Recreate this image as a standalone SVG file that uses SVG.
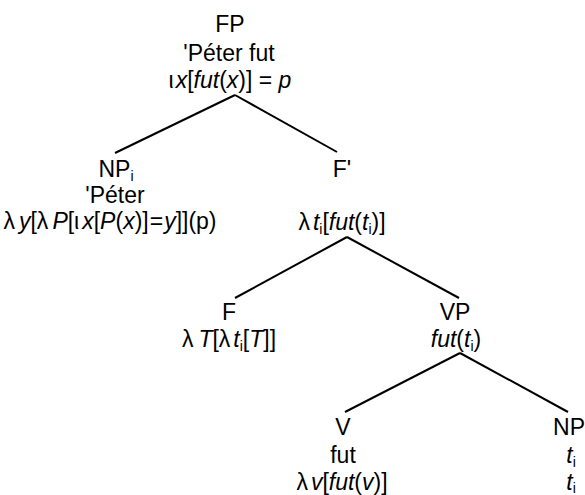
<svg xmlns="http://www.w3.org/2000/svg" width="585" height="495" viewBox="0 0 585 495">
<style>
text{font-family:"Liberation Sans",Arial,sans-serif;font-size:23px;fill:#000;text-anchor:middle}
.i{font-style:italic}
.s{font-size:14px}
.e{stroke:#000;stroke-width:2;fill:none}
</style>
<rect width="585" height="495" fill="#fff"/>
<g id="connectors">
<line class="e" x1="235" y1="95" x2="115" y2="153"/>
<line class="e" x1="235" y1="95" x2="337" y2="152"/>
<line class="e" x1="347" y1="237" x2="235" y2="298"/>
<line class="e" x1="347" y1="237" x2="459" y2="298"/>
<line class="e" x1="460" y1="353" x2="345" y2="412"/>
<line class="e" x1="460" y1="353" x2="568" y2="412"/>
</g>
<g id="FP">
<text x="230" y="32">FP</text>
<text x="229" y="61">'Péter fut</text>
<text x="230" y="88">ι<tspan class="i" dx="2">x</tspan>[<tspan class="i">fut</tspan>(<tspan class="i">x</tspan>)] = <tspan class="i">p</tspan></text>
</g>
<g id="NPi">
<text x="116" y="177">NP<tspan class="s" dy="4">i</tspan></text>
<text x="115" y="203">'Péter</text>
<text x="110" y="229">λ<tspan class="i" dx="4">y</tspan>[λ<tspan class="i" dx="4">P</tspan>[ι<tspan class="i" dx="3">x</tspan>[<tspan class="i">P</tspan>(<tspan class="i">x</tspan>)]<tspan dx="1">=</tspan><tspan class="i" dx="1">y</tspan>]](p)</text>
</g>
<g id="Fbar">
<text x="342" y="177">F'</text>
<text x="342" y="230">λ<tspan class="i" dx="3">t</tspan><tspan class="s" dy="4">i</tspan><tspan dy="-4">[</tspan><tspan class="i">fut</tspan>(<tspan class="i">t</tspan><tspan class="s" dy="4">i</tspan><tspan dy="-4">)]</tspan></text>
</g>
<g id="F">
<text x="229" y="320">F</text>
<text x="229" y="347">λ<tspan class="i" dx="5">T</tspan>[λ<tspan class="i" dx="3">t</tspan><tspan class="s" dy="4">i</tspan><tspan dy="-4">[</tspan><tspan class="i">T</tspan>]]</text>
</g>
<g id="VP">
<text x="455" y="320">VP</text>
<text x="456" y="347"><tspan class="i">fut</tspan>(<tspan class="i">t</tspan><tspan class="s" dy="4">i</tspan><tspan dy="-4">)</tspan></text>
</g>
<g id="V">
<text x="343" y="435">V</text>
<text x="343" y="463">fut</text>
<text x="342" y="490">λ<tspan class="i" dx="3">v</tspan>[<tspan class="i">fut</tspan>(<tspan class="i">v</tspan>)]</text>
</g>
<g id="NP">
<text x="569" y="435">NP</text>
<text x="571" y="463"><tspan class="i">t</tspan><tspan class="s" dy="4">i</tspan></text>
<text x="571" y="490"><tspan class="i">t</tspan><tspan class="s" dy="3">i</tspan></text>
</g>
</svg>
